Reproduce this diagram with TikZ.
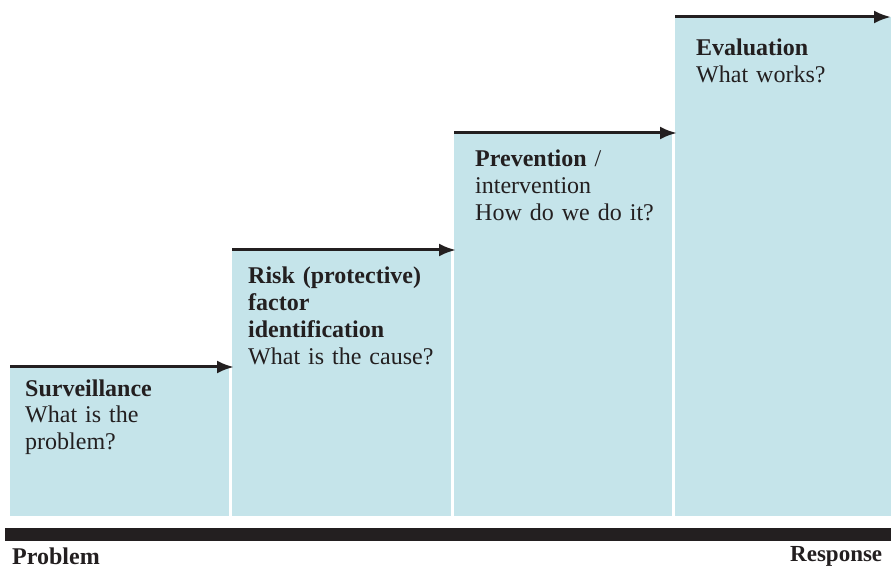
\documentclass[tikz,border=0pt]{standalone}
\usepackage{fontspec}
\setmainfont{Liberation Serif}
\usepackage{tikz}
\usetikzlibrary{arrows.meta,positioning}
\definecolor{stagefill}{RGB}{197,228,234}
\definecolor{inkdark}{RGB}{35,31,32}

\begin{document}
\begin{tikzpicture}[
    x=1pt, y=1pt,
    >={Latex[length=17pt,width=13pt]},
    font=\fontsize{24}{27}\selectfont,
    stage/.style={
		rectangle,
		fill=stagefill,
		draw=none,
		inner sep=0pt,
		outer sep=0pt,
		anchor=south west
	},
	stagetext/.style={
		anchor=base west,
		inner sep=0pt,
		align=left,
		text width=205pt,
		text=inkdark
	},
	flow/.style={
		draw=inkdark,
		line width=3pt,
		shorten >=-2pt,
		->
	},
	endlabel/.style={
		anchor=base west,
		inner sep=0pt,
		text=inkdark,
		font=\fontsize{23}{27}\selectfont\bfseries
	}
  ]
 \useasboundingbox (0,0) rectangle (891,568);

% // The stages
 \node [stage, minimum width=219pt, minimum height=149pt] (surv) at (10,52) {};
 \node [stage, minimum width=219pt, minimum height=266pt] (risk) at (232,52) {};
 \node [stage, minimum width=218pt, minimum height=383pt] (prev) at (454,52) {};
 \node [stage, minimum width=216pt, minimum height=499pt] (eval) at (675,52) {};
 \coordinate (top) at (889,551);

 \node [stagetext] (survtext) at (25,172)
 {\textbf{Surveillance}\\What is the\\problem?};
 \node [stagetext] (risktext) at (248,284)
 {\textbf{Risk (protective)}\\\textbf{factor}\\\textbf{identification}\\What is the cause?};
 \node [stagetext] (prevtext) at (475,401)
 {\textbf{Prevention} /\\intervention\\How do we do it?};
 \node [stagetext] (evaltext) at (696,512)
 {\textbf{Evaluation}\\What works?};

% // The steps
 \draw [flow] (surv.north west) -- (surv.north west -| risk.west);
 \draw [flow] (risk.north west) -- (risk.north west -| prev.west);
 \draw [flow] (prev.north west) -- (prev.north west -| eval.west);
 \draw [flow] (eval.north west) -- (top);

% // The axis
 \node [rectangle, fill=inkdark, inner sep=0pt, anchor=south west,
 minimum width=886pt, minimum height=13pt] (axis) at (5,27) {};
 \node [endlabel, font=\fontsize{24}{27}\selectfont\bfseries] (problem) at (12,4) {Problem};
 \node [endlabel] (response) at (790,7) {Response};

\end{tikzpicture}
\end{document}
